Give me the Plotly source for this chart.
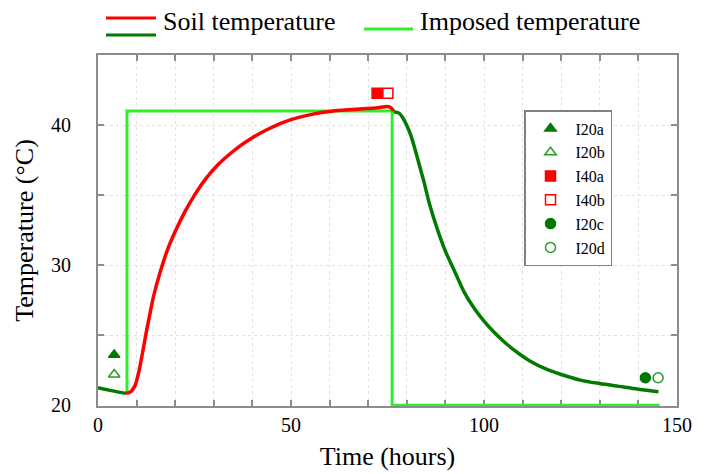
import plotly.graph_objects as go

# ---------------- data ----------------
soil_init_t = [0, 3.5, 7.3]
soil_init_T = [21.26, 21.05, 20.85]

soil_heat_t = [7.3, 8.5, 9.5, 10.5, 11.5, 12.5, 13.5, 14.5, 16, 18, 20, 22.5, 25, 28, 31, 34,
               37, 40, 44, 48, 52, 56, 60, 64, 68, 72, 75.5, 76.6]
soil_heat_T = [20.85, 20.98, 21.35, 22.3, 23.7, 25.2, 26.6, 27.9, 29.4, 31.1, 32.4, 33.8, 35.0, 36.2,
               37.15, 37.9, 38.55, 39.1, 39.7, 40.2, 40.55, 40.8, 40.97, 41.07, 41.15, 41.22, 41.3, 41.0]

soil_cool_t = [76.6, 78, 79, 80, 81, 82, 83, 84.4, 86, 88, 90, 92.5, 95, 97.5, 100, 103, 106, 109,
               112, 116, 120, 125, 130, 135, 140, 145.2]
soil_cool_T = [40.95, 40.85, 40.5, 39.97, 39.3, 38.4, 37.4, 36.0, 34.25, 32.5, 31.0, 29.5, 28.0, 26.9,
               26.0, 25.1, 24.34, 23.7, 23.15, 22.6, 22.2, 21.8, 21.55, 21.35, 21.15, 20.97]

imposed_t = [7.5, 7.5, 76.2, 76.2, 145.5]
imposed_T = [20.85, 41.0, 41.0, 20.0, 20.0]

marker_names = ["I20a", "I20b", "I40a", "I40b", "I20c", "I20d"]
marker_t = [4.2, 4.2, 72.3, 75.1, 141.8, 145.1]
marker_T = [23.6, 22.2, 42.27, 42.27, 21.97, 21.97]

x_tickvals = list(range(0, 151, 10))
x_ticktext = [str(v) if v % 50 == 0 else "" for v in x_tickvals]
y_tickvals = list(range(20, 46, 5))
y_ticktext = [str(v) if v % 10 == 0 else "" for v in y_tickvals]

# ---------------- styles ----------------
RED = "#ff0000"
DKGREEN = "#007a00"
LIME = "#2cf02c"
FONT = "Liberation Serif"
marker_symbols = ["triangle-up", "triangle-up-open", "square", "square-open", "circle", "circle-open"]
marker_colors = [DKGREEN, "#2a9a2a", RED, RED, DKGREEN, "#2a9a2a"]

W, H = 708, 474
L, R, T, B = 98, 677, 55, 406


def px2paper_x(px):
    return (px - L) / (R - L)


def px2paper_y(py):
    return (B - py) / (B - T)


fig = go.Figure()

fig.add_trace(go.Scatter(x=imposed_t, y=imposed_T, mode="lines",
                         line=dict(color=LIME, width=3), showlegend=False,
                         hoverinfo="skip"))
fig.add_trace(go.Scatter(x=soil_init_t, y=soil_init_T, mode="lines",
                         line=dict(color=DKGREEN, width=3.5, shape="spline"),
                         showlegend=False))
fig.add_trace(go.Scatter(x=soil_heat_t, y=soil_heat_T, mode="lines",
                         line=dict(color=RED, width=3.5, shape="spline", smoothing=1.0),
                         showlegend=False))
fig.add_trace(go.Scatter(x=soil_cool_t, y=soil_cool_T, mode="lines",
                         line=dict(color=DKGREEN, width=3.5, shape="spline", smoothing=1.0),
                         showlegend=False))

for name, t, v, sym, col in zip(marker_names, marker_t, marker_T, marker_symbols, marker_colors):
    fig.add_trace(go.Scatter(x=[t], y=[v], mode="markers", name=name,
                             marker=dict(symbol=sym, size=10, color=col,
                                         line=dict(color=col, width=1.5)),
                             legend="legend2", cliponaxis=False))

axis_common = dict(
    showline=True, linecolor="#8c8c8c", linewidth=2, mirror="ticks",
    ticks="inside", ticklen=6, tickcolor="#8c8c8c", tickwidth=1.5,
    showgrid=True, gridcolor="#e2e2e2", griddash="dot", gridwidth=1,
    zeroline=False, layer="below traces", automargin=False,
    tickfont=dict(family=FONT, size=20, color="black"),
)

fig.update_xaxes(range=[0, 150], tickmode="array", tickvals=x_tickvals, ticktext=x_ticktext,
                 title=dict(text="Time (hours)", font=dict(family=FONT, size=26, color="black"),
                            standoff=12),
                 ticklabelstandoff=0, **axis_common)
fig.update_yaxes(range=[19.95, 45], tickmode="array", tickvals=y_tickvals, ticktext=y_ticktext,
                 title=dict(text="Temperature (°C)", font=dict(family=FONT, size=26, color="black"),
                            standoff=10),
                 ticklabelstandoff=21, **axis_common)

# top legend (drawn as keys + text)
shapes = [
    dict(type="line", xref="paper", yref="paper", x0=px2paper_x(106), x1=px2paper_x(156),
         y0=px2paper_y(18), y1=px2paper_y(18), line=dict(color=RED, width=3)),
    dict(type="line", xref="paper", yref="paper", x0=px2paper_x(106), x1=px2paper_x(156),
         y0=px2paper_y(35), y1=px2paper_y(35), line=dict(color=DKGREEN, width=3)),
    dict(type="line", xref="paper", yref="paper", x0=px2paper_x(364), x1=px2paper_x(413),
         y0=px2paper_y(29), y1=px2paper_y(29), line=dict(color=LIME, width=3)),
]
annotations = [
    dict(text="Soil temperature", xref="paper", yref="paper", x=px2paper_x(161), y=px2paper_y(22),
         xanchor="left", yanchor="middle", showarrow=False,
         font=dict(family=FONT, size=26, color="black")),
    dict(text="Imposed temperature", xref="paper", yref="paper", x=px2paper_x(418), y=px2paper_y(22),
         xanchor="left", yanchor="middle", showarrow=False,
         font=dict(family=FONT, size=26, color="black")),
]

fig.update_layout(
    width=W, height=H,
    margin=dict(l=L, r=W - R, t=T, b=H - B, pad=0, autoexpand=False),
    paper_bgcolor="white", plot_bgcolor="white",
    font=dict(family=FONT, color="black"),
    showlegend=True,
    legend2=dict(x=px2paper_x(524), y=px2paper_y(110), xanchor="left", yanchor="top",
                 bgcolor="white", bordercolor="#808080", borderwidth=1.5,
                 font=dict(family=FONT, size=16, color="black"),
                 tracegroupgap=0, itemwidth=40),
    shapes=shapes, annotations=annotations,
)

fig.write_html("out.html", config={"displayModeBar": False},
               post_script="document.body.style.margin='0px';")
